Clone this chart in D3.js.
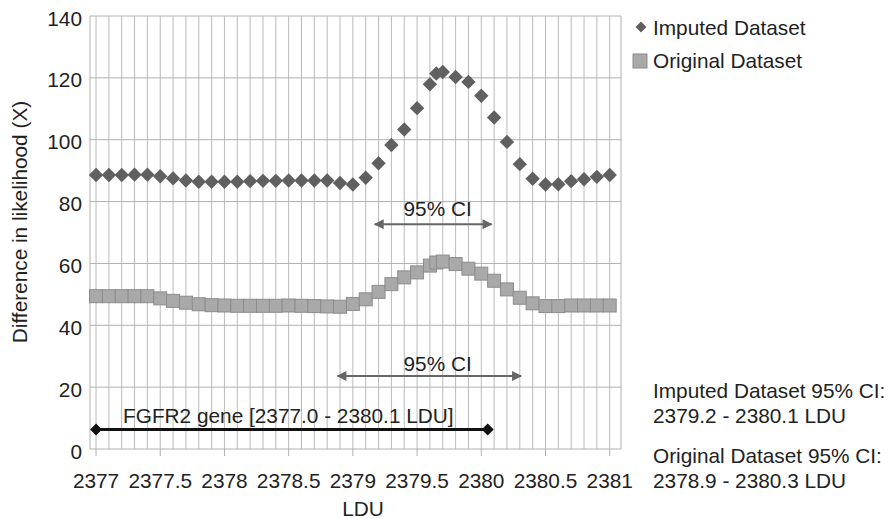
<!DOCTYPE html>
<html>
<head>
<meta charset="utf-8">
<script src="https://cdn.jsdelivr.net/npm/d3@7"></script>
<style>
  body { margin: 0; background: #fff; }
  text { font-family: "Liberation Sans", Arial, sans-serif; fill: #222; font-size: 20.8px; }
</style>
</head>
<body>
<div id="image"></div>
<script>
// LDU positions of the markers (an extra point sits at the peak)
var ldu = [2377.0, 2377.1, 2377.2, 2377.3, 2377.4, 2377.5, 2377.6, 2377.7, 2377.8, 2377.9,
           2378.0, 2378.1, 2378.2, 2378.3, 2378.4, 2378.5, 2378.6, 2378.7, 2378.8, 2378.9,
           2379.0, 2379.1, 2379.2, 2379.3, 2379.4, 2379.5, 2379.6, 2379.65, 2379.7, 2379.8,
           2379.9, 2380.0, 2380.1, 2380.2, 2380.3, 2380.4, 2380.5, 2380.6, 2380.7, 2380.8,
           2380.9, 2381.0];
var imputed = [88.6, 88.6, 88.6, 88.7, 88.7, 88.2, 87.5, 86.8, 86.4, 86.4,
               86.4, 86.4, 86.6, 86.7, 86.7, 86.8, 86.8, 86.8, 86.8, 86.0,
               85.5, 87.7, 92.4, 98.3, 103.3, 110.2, 117.9, 121.4, 121.9, 120.3,
               118.7, 114.2, 107.2, 99.3, 92.1, 87.4, 85.5, 85.6, 86.6, 87.2,
               88.0, 88.6];
var original = [49.4, 49.4, 49.4, 49.4, 49.4, 48.7, 47.9, 47.3, 46.8, 46.5,
                46.4, 46.3, 46.3, 46.3, 46.3, 46.4, 46.3, 46.2, 46.1, 46.0,
                46.9, 48.4, 50.8, 53.3, 55.5, 57.1, 59.3, 60.3, 60.6, 59.8,
                58.3, 56.7, 54.4, 51.6, 48.9, 47.1, 46.2, 46.2, 46.4, 46.4,
                46.4, 46.4];

var seriesNames = ["Imputed Dataset", "Original Dataset"];
var xTicks = [2377, 2377.5, 2378, 2378.5, 2379, 2379.5, 2380, 2380.5, 2381];
var yTicks = [0, 20, 40, 60, 80, 100, 120, 140];

// annotations: [from, to, level] in data units
var imputedCI = [2379.17, 2380.08, 72.7];
var originalCI = [2378.88, 2380.31, 23.6];
var gene = [2377.0, 2380.05, 6.3];
var notes = ["Imputed Dataset 95% CI:", "2379.2 - 2380.1 LDU",
             "Original Dataset 95% CI:", "2378.9 - 2380.3 LDU"];

var svg = d3.select("#image").append("svg").attr("width", 893).attr("height", 519);

var x = d3.scaleLinear().domain([2376.953, 2381.088]).range([90, 621]);
var y = d3.scaleLinear().domain([0, 140]).range([449, 16]);

var gridColor = "#b0b0b0";

// vertical grid, every 0.1 LDU
var vLines = d3.range(0, 41).map(function (i) { return 2377 + i / 10; });
svg.append("g").selectAll("line").data(vLines).enter().append("line")
    .attr("x1", function (d) { return x(d); }).attr("x2", function (d) { return x(d); })
    .attr("y1", y(140)).attr("y2", y(0))
    .attr("stroke", "#bababa").attr("stroke-width", 1);

// horizontal grid
svg.append("g").selectAll("line").data(yTicks).enter().append("line")
    .attr("x1", x.range()[0]).attr("x2", x.range()[1])
    .attr("y1", function (d) { return y(d); }).attr("y2", function (d) { return y(d); })
    .attr("stroke", gridColor).attr("stroke-width", 1);

// plot border left/right
svg.append("line").attr("x1", x.range()[0]).attr("x2", x.range()[0])
    .attr("y1", y(140)).attr("y2", y(0)).attr("stroke", gridColor);
svg.append("line").attr("x1", x.range()[1]).attr("x2", x.range()[1])
    .attr("y1", y(140)).attr("y2", y(0)).attr("stroke", gridColor);

// x axis tick marks
svg.append("g").selectAll("line").data(xTicks).enter().append("line")
    .attr("x1", function (d) { return x(d); }).attr("x2", function (d) { return x(d); })
    .attr("y1", y(0)).attr("y2", y(0) + 7)
    .attr("stroke", gridColor);

// tick labels
svg.append("g").selectAll("text").data(xTicks).enter().append("text")
    .attr("x", function (d) { return x(d); }).attr("y", 488)
    .attr("text-anchor", "middle")
    .text(function (d) { return d; });

svg.append("g").selectAll("text").data(yTicks).enter().append("text")
    .attr("x", 82).attr("y", function (d) { return y(d) + 9.5; })
    .attr("text-anchor", "end")
    .text(function (d) { return d; });

// axis titles
svg.append("text").attr("x", 363).attr("y", 516)
    .attr("text-anchor", "middle").text("LDU");
svg.append("text").attr("transform", "translate(27,222) rotate(-90)")
    .attr("text-anchor", "middle")
    .text("Difference in likelihood (X)");

function diamond(cx, cy, r) {
    return "M" + cx + " " + (cy - r) + "L" + (cx + r) + " " + cy +
           "L" + cx + " " + (cy + r) + "L" + (cx - r) + " " + cy + "Z";
}

// original dataset squares
var sq = 13;
svg.append("g").selectAll("rect").data(original).enter().append("rect")
    .attr("x", function (d, i) { return x(ldu[i]) - sq / 2; })
    .attr("y", function (d) { return y(d) - sq / 2; })
    .attr("width", sq).attr("height", sq)
    .attr("fill", "#a9a9a9").attr("stroke", "#8c8c8c").attr("stroke-width", 1);

// imputed dataset diamonds
svg.append("g").selectAll("path").data(imputed).enter().append("path")
    .attr("d", function (d, i) { return diamond(x(ldu[i]), y(d), 7.2); })
    .attr("fill", "#606060");

// arrows
var defs = svg.append("defs");
defs.append("marker").attr("id", "ahead").attr("viewBox", "0 0 10 10")
    .attr("refX", 9).attr("refY", 5).attr("markerWidth", 11).attr("markerHeight", 10)
    .attr("markerUnits", "userSpaceOnUse").attr("orient", "auto-start-reverse")
    .append("path").attr("d", "M0,0L10,5L0,10Z").attr("fill", "#666");

function ciArrow(ci, labelY) {
    svg.append("line")
        .attr("x1", x(ci[0])).attr("x2", x(ci[1]))
        .attr("y1", y(ci[2])).attr("y2", y(ci[2]))
        .attr("stroke", "#666").attr("stroke-width", 2)
        .attr("marker-start", "url(#ahead)").attr("marker-end", "url(#ahead)");
    svg.append("text").attr("x", x(2379.66)).attr("y", y(labelY))
        .attr("text-anchor", "middle").text("95% CI");
}
ciArrow(imputedCI, 75.2);
ciArrow(originalCI, 25.3);

// FGFR2 gene span
svg.append("line").attr("x1", x(gene[0])).attr("x2", x(gene[1]))
    .attr("y1", y(gene[2])).attr("y2", y(gene[2]))
    .attr("stroke", "#111").attr("stroke-width", 3);
svg.append("g").selectAll("path").data([gene[0], gene[1]]).enter().append("path")
    .attr("d", function (d) { return diamond(x(d), y(gene[2]), 6); })
    .attr("fill", "#111");
svg.append("text").attr("x", x(2377.21)).attr("y", y(8.4))
    .text("FGFR2 gene [2377.0 - 2380.1 LDU]");

// legend
svg.append("path").attr("d", diamond(641, 27, 5.5)).attr("fill", "#606060");
svg.append("rect").attr("x", 633).attr("y", 54).attr("width", 14).attr("height", 14)
    .attr("fill", "#a9a9a9").attr("stroke", "#8c8c8c");
svg.append("g").selectAll("text").data(seriesNames).enter().append("text")
    .attr("x", 653).attr("y", function (d, i) { return 34.5 + i * 33; })
    .text(function (d) { return d; });

// CI notes at right
var noteY = [398, 423, 463, 488];
svg.append("g").selectAll("text").data(notes).enter().append("text")
    .attr("x", 653).attr("y", function (d, i) { return noteY[i]; })
    .text(function (d) { return d; });
</script>
</body>
</html>
